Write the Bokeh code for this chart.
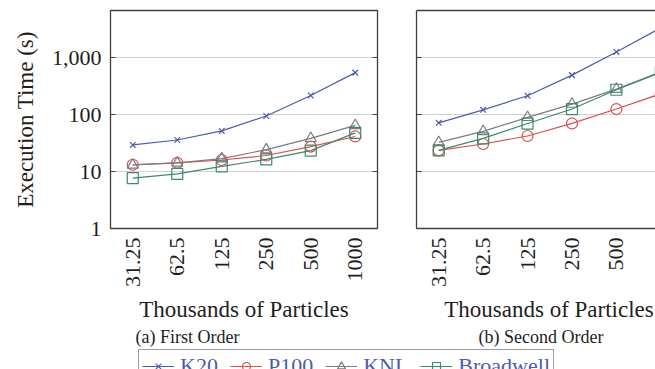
import math

from bokeh.plotting import figure
from bokeh.layouts import row, column
from bokeh.models import (FixedTicker, NumeralTickFormatter, LogAxis, LinearAxis, Legend,
                          LegendItem, Label, CustomJSTickFormatter, Range1d)
from bokeh.embed import file_html
from bokeh.resources import INLINE

# Problem sizes (thousands of particles) and devices
particles = ["31.25", "62.5", "125", "250", "500", "1000"]
devices = ["K20", "P100", "KNL", "Broadwell"]

# Execution time in seconds, first-order scheme
first_k20 = [29.5, 36, 52, 95, 218, 550]
first_p100 = [13.2, 14.3, 16.0, 19.2, 27.5, 41.5]
first_knl = [13.1, 14.2, 16.9, 24.3, 38.5, 65]
first_broadwell = [7.7, 9.1, 12.4, 16.4, 23.4, 48]

# Execution time in seconds, second-order scheme
second_k20 = [72, 122, 216, 497, 1270, 3380]
second_p100 = [23.6, 30.6, 42.3, 70.3, 126, 234]
second_knl = [32.7, 51, 90, 154, 282, 570]
second_broadwell = [23.6, 38.4, 70, 126, 275, 560]

y_ticks = [1, 10, 100, 1000]

x_title = "Thousands of Particles"
captions = ["(a) First Order", "(b) Second Order"]

SERIF = "Liberation Serif"
FRAME = "#3f3f3f"
TEXT = "#1e1e1e"
colors = {"K20": "#4c5cb0", "P100": "#dc4f4f", "KNL": "#7c7c7c", "Broadwell": "#3b8a6d"}
markers = {"K20": "x", "P100": "circle", "KNL": "triangle", "Broadwell": "square"}
sizes = {"K20": 8, "P100": 11, "KNL": 11, "Broadwell": 11}

first_order = {"K20": first_k20, "P100": first_p100, "KNL": first_knl, "Broadwell": first_broadwell}
second_order = {"K20": second_k20, "P100": second_p100, "KNL": second_knl, "Broadwell": second_broadwell}

xs = list(range(len(particles)))
blank = CustomJSTickFormatter(code="return ''")

PAGE_H = 369
PANEL_H = 292


def build_panel(series, width, x_end, border_left, border_right):
    p = figure(width=width, height=PANEL_H, y_axis_type="log",
               x_range=Range1d(-0.5, x_end), y_range=Range1d(1, 6800),
               output_backend="svg", toolbar_location=None,
               min_border_left=border_left, min_border_right=border_right,
               min_border_top=10, min_border_bottom=PANEL_H - 228)
    p.background_fill_color = "white"
    p.border_fill_color = "white"
    p.xgrid.visible = False
    p.ygrid.ticker = FixedTicker(ticks=y_ticks)
    p.ygrid.grid_line_color = "#d2d2d2"
    p.ygrid.grid_line_width = 1

    xa = p.xaxis[0]
    xa.ticker = FixedTicker(ticks=xs)
    xa.major_label_overrides = {i: lab for i, lab in zip(xs, particles)}
    xa.major_label_orientation = math.pi / 2
    xa.major_label_text_font = SERIF
    xa.major_label_text_font_size = "22px"
    xa.major_label_text_color = TEXT
    xa.major_label_standoff = 9
    xa.major_tick_in = 0
    xa.major_tick_out = 0
    xa.minor_tick_line_color = None

    ya = p.yaxis[0]
    ya.ticker = FixedTicker(ticks=y_ticks)
    ya.major_tick_in = 5
    ya.major_tick_out = 0
    ya.major_tick_line_color = FRAME
    ya.minor_tick_line_color = None
    ya.major_label_text_font = SERIF
    ya.major_label_text_font_size = "22px"
    ya.major_label_text_color = TEXT
    ya.major_label_standoff = 9

    for name in devices:
        vals = series[name]
        p.line(xs, vals, line_color=colors[name], line_width=1.2)
        p.scatter(xs, vals, marker=markers[name], size=sizes[name],
                  line_color=colors[name], fill_color=None, line_width=1.2)
    return p


# (a) first order
left = build_panel(first_order, 400, 5.5, 110, 23)
left.outline_line_color = FRAME
left.outline_line_width = 1.3
left.xaxis.axis_line_color = None
left.yaxis.axis_line_color = None
left.yaxis[0].formatter = NumeralTickFormatter(format="0,0")
left.yaxis.axis_label = "Execution Time (s)"
left.yaxis.axis_label_text_font = SERIF
left.yaxis.axis_label_text_font_size = "23px"
left.yaxis.axis_label_text_font_style = "normal"
left.yaxis.axis_label_text_color = TEXT
left.yaxis.axis_label_standoff = 11
right_ticks = LogAxis(ticker=FixedTicker(ticks=y_ticks), formatter=blank,
                      major_tick_in=5, major_tick_out=0, major_label_standoff=0,
                      major_tick_line_color=FRAME, minor_tick_line_color=None,
                      axis_line_color=None)
left.add_layout(right_ticks, "right")

# (b) second order, running past the right edge of the page
right = build_panel(second_order, 255, 4.88, 16, 0)
right.outline_line_color = None
right.yaxis[0].formatter = blank
right.yaxis[0].major_label_standoff = 0
for ax in (right.xaxis[0], right.yaxis[0]):
    ax.axis_line_color = FRAME
    ax.axis_line_width = 1.3
top_line = LinearAxis(ticker=FixedTicker(ticks=[]), formatter=blank,
                      major_tick_in=0, major_tick_out=0, minor_tick_line_color=None,
                      major_label_standoff=0, axis_line_color=FRAME, axis_line_width=1.3)
right.add_layout(top_line, "above")

# Strip under the panels: axis titles, sub-captions and the shared legend.
# Its data space is laid out in pixels, measured up from the page bottom.
STRIP_H = PAGE_H - PANEL_H
strip = figure(width=655, height=STRIP_H, x_axis_type=None, y_axis_type=None,
               x_range=Range1d(0, 655), y_range=Range1d(0, STRIP_H),
               output_backend="svg", toolbar_location=None,
               min_border_left=0, min_border_right=0, min_border_top=0, min_border_bottom=0)
strip.outline_line_color = None
strip.background_fill_color = "white"
for cx in (243.5, 548.5):
    strip.add_layout(Label(x=cx, y=PAGE_H - 309, text=x_title, text_font=SERIF,
                           text_font_size="23px", text_color=TEXT,
                           text_align="center", text_baseline="middle"))
for cx, cap in zip((135, 478), captions):
    strip.add_layout(Label(x=cx, y=PAGE_H - 336, text=cap, text_font=SERIF,
                           text_font_size="18px", text_color=TEXT,
                           text_align="left", text_baseline="middle"))

# Legend samples: the first-order series on a range kept out of view
strip.extra_y_ranges = {"offscreen": Range1d(-20, -10)}
items = []
for name in devices:
    lr = strip.line(xs, first_order[name], line_color=colors[name], line_width=1.2,
                    y_range_name="offscreen")
    sr = strip.scatter(xs, first_order[name], marker=markers[name], size=sizes[name],
                       line_color=colors[name], fill_color=None, line_width=1.2,
                       y_range_name="offscreen")
    items.append(LegendItem(label=name, renderers=[lr, sr]))
legend = Legend(items=items, location=(138, -14), orientation="horizontal",
                margin=0, padding=3, spacing=12, glyph_width=32, glyph_height=20,
                label_standoff=6, label_height=20,
                label_text_font=SERIF, label_text_font_size="22px",
                label_text_color="#4c5cb0",
                border_line_color=FRAME, border_line_width=1.3,
                background_fill_color="white", background_fill_alpha=1.0)
strip.add_layout(legend, "center")

layout = column(row(left, right), strip)

with open("out.html", "w") as f:
    f.write(file_html(layout, INLINE))
